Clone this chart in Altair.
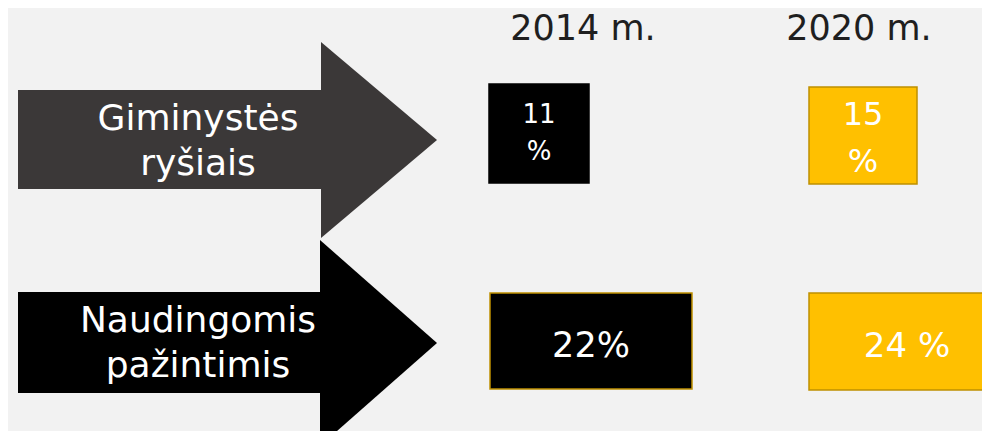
import altair as alt
import pandas as pd

# ---- values ----
categories = ["Giminystės ryšiais", "Naudingomis pažintimis"]
category_lines = ["Giminystės\nryšiais", "Naudingomis\npažintimis"]
years = ["2014 m.", "2020 m."]
share_2014 = [11, 22]
share_2020 = [15, 24]
labels_2014 = ["11\n%", "22%"]
labels_2020 = ["15\n%", "24 %"]

# ---- layout (reference pixel space) ----
row_mid = [140, 343]
shaft_left = [18, 18]
shaft_right = [321, 320]
shaft_top = [90, 292]
shaft_bottom = [189, 393]
head_half = [98, 103]
tip_x = [437, 437]
arrow_fill = ["#3B3838", "#000000"]
arrow_text_x = [198, 198]
arrow_text_base = [130, 332]

year_x = [583, 859]
year_base = [40, 40]

box_x0 = {"2014 m.": [489, 490], "2020 m.": [809, 809]}
box_x1 = {"2014 m.": [589, 692], "2020 m.": [917, 1010]}
box_y0 = {"2014 m.": [84, 293], "2020 m.": [87, 293]}
box_y1 = {"2014 m.": [183, 389], "2020 m.": [184, 390]}
label_x = {"2014 m.": [539, 591], "2020 m.": [863, 907]}
label_base = {"2014 m.": [123, 357], "2020 m.": [125, 357]}
label_size = {"2014 m.": [26, 35], "2020 m.": [32, 34]}
label_lh = {"2014 m.": [37, 47], "2020 m.": [47, 47]}
box_fill = {"2014 m.": "#000000", "2020 m.": "#FFC000"}
box_stroke = {"2014 m.": ["#000000", "#BF9000"], "2020 m.": ["#BF9000", "#BF9000"]}

W, H = 974, 423
xs = alt.Scale(domain=[8, 8 + W], range=[0, W], nice=False, zero=False)
ys = alt.Scale(domain=[8, 8 + H], range=[0, H], nice=False, zero=False)

def X(f):
    return alt.X(f, type="quantitative", scale=xs, axis=None)

def Y(f):
    return alt.Y(f, type="quantitative", scale=ys, axis=None, stack=None)

# ---- tables ----
shafts = pd.DataFrame({
    "category": categories, "x0": shaft_left, "x1": shaft_right,
    "y0": shaft_top, "y1": shaft_bottom, "fill": arrow_fill,
    "text": category_lines, "tx": arrow_text_x, "ty": arrow_text_base,
})

head_rows = []
for i, c in enumerate(categories):
    head_rows.append({"category": c, "x": shaft_right[i], "y0": row_mid[i] - head_half[i],
                      "y1": row_mid[i] + head_half[i], "fill": arrow_fill[i]})
    head_rows.append({"category": c, "x": tip_x[i], "y0": row_mid[i], "y1": row_mid[i],
                      "fill": arrow_fill[i]})
heads = pd.DataFrame(head_rows)

headers = pd.DataFrame({"year": years, "x": year_x, "y": year_base})

box_rows = []
for yr, vals, labs in [(years[0], share_2014, labels_2014), (years[1], share_2020, labels_2020)]:
    for r, c in enumerate(categories):
        box_rows.append({
            "category": c, "year": yr, "value": vals[r], "label": labs[r],
            "x0": box_x0[yr][r], "x1": box_x1[yr][r], "y0": box_y0[yr][r], "y1": box_y1[yr][r],
            "lx": label_x[yr][r], "ly": label_base[yr][r], "size": label_size[yr][r],
            "lh": label_lh[yr][r], "fill": box_fill[yr], "stroke": box_stroke[yr][r],
        })
boxes = pd.DataFrame(box_rows)

# ---- layers ----
shaft_layer = alt.Chart(shafts).mark_rect(strokeWidth=0).encode(
    x=X("x0"), x2="x1", y=Y("y0"), y2="y1",
    fill=alt.Fill("fill:N", scale=None),
)

head_layer = alt.Chart(heads).mark_area(orient="vertical", clip=True, interpolate="linear").encode(
    x=X("x"), y=Y("y0"), y2="y1",
    fill=alt.Fill("fill:N", scale=None), detail="category:N",
)

arrow_text = alt.Chart(shafts).mark_text(
    font="DejaVu Sans", fontSize=36, color="#FFFFFF", align="center",
    baseline="alphabetic", lineBreak="\n", lineHeight=45,
).encode(x=X("tx"), y=Y("ty"), text="text:N")

header_layer = alt.Chart(headers).mark_text(
    font="DejaVu Sans", fontSize=35, color="#1F1F1F", align="center", baseline="alphabetic",
).encode(x=X("x"), y=Y("y"), text="year:N")

box_layer = alt.Chart(boxes).mark_rect(strokeWidth=1.5, clip=True).encode(
    x=X("x0"), x2="x1", y=Y("y0"), y2="y1",
    fill=alt.Fill("fill:N", scale=None), stroke=alt.Stroke("stroke:N", scale=None),
)

label_layers = []
for lh in sorted(set(boxes["lh"])):
    label_layers.append(
        alt.Chart(boxes).transform_filter(alt.datum.lh == int(lh)).mark_text(
            font="DejaVu Sans", color="#FFFFFF", align="center", baseline="alphabetic",
            lineBreak="\n", lineHeight=int(lh),
        ).encode(x=X("lx"), y=Y("ly"), text="label:N", size=alt.Size("size:Q", scale=None))
    )

chart = alt.layer(shaft_layer, head_layer, arrow_text, header_layer, box_layer, *label_layers).properties(
    width=W, height=H, background="#F2F2F2", padding=0,
    autosize=alt.AutoSizeParams(type="none"),
).configure_view(stroke=None)

chart.save("out.html", embed_options={"renderer": "svg", "actions": False})
